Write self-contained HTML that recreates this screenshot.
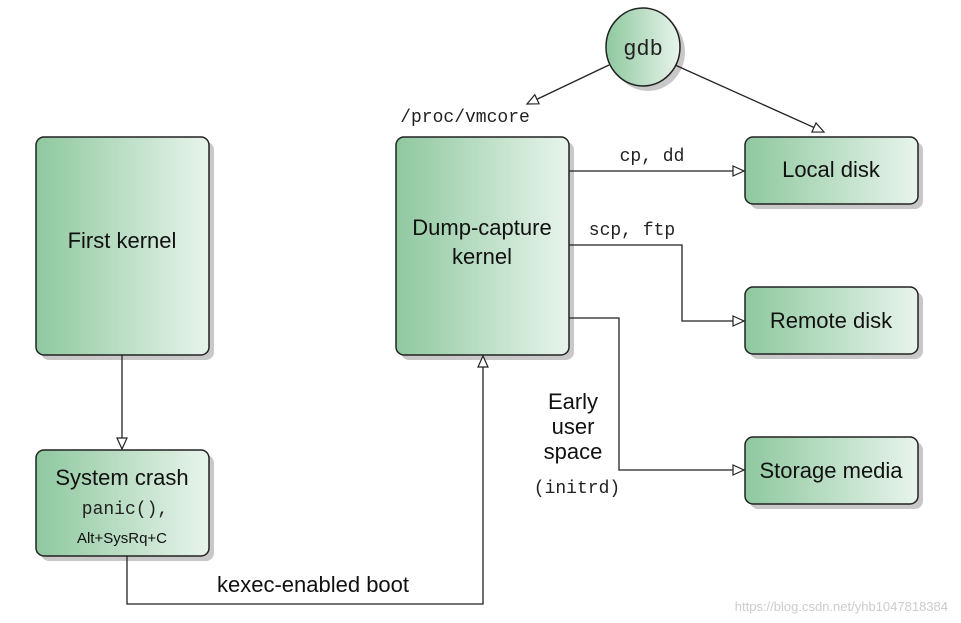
<html><body style="margin:0;background:#fff">
<svg width="961" height="623" xmlns="http://www.w3.org/2000/svg" style="font-family:'Liberation Sans',sans-serif">
<defs>
<linearGradient id="g" x1="0" x2="1" y1="0" y2="0"><stop offset="0" stop-color="#8fc89f"/><stop offset="1" stop-color="#e8f4ec"/></linearGradient>
<marker id="a" markerWidth="14" markerHeight="12" refX="12" refY="6" orient="auto" markerUnits="userSpaceOnUse"><path d="M1,1 L12,6 L1,11 Z" fill="#fff" stroke="#222" stroke-width="1.2"/></marker>
</defs>
<g fill="#c8c8c8">
<rect x="41" y="142" width="173" height="218" rx="8"/>
<rect x="41" y="455" width="173" height="106" rx="8"/>
<rect x="401" y="142" width="173" height="218" rx="8"/>
<rect x="750" y="142" width="173" height="67" rx="8"/>
<rect x="750" y="292" width="173" height="67" rx="8"/>
<rect x="750" y="442" width="173" height="67" rx="8"/>
<ellipse cx="648" cy="52" rx="37" ry="39"/>
</g>
<g fill="url(#g)" stroke="#222" stroke-width="1.5">
<rect x="36" y="137" width="173" height="218" rx="8"/>
<rect x="36" y="450" width="173" height="106" rx="8"/>
<rect x="396" y="137" width="173" height="218" rx="8"/>
<rect x="745" y="137" width="173" height="67" rx="8"/>
<rect x="745" y="287" width="173" height="67" rx="8"/>
<rect x="745" y="437" width="173" height="67" rx="8"/>
<ellipse cx="643" cy="47" rx="37" ry="39"/>
</g>
<g fill="none" stroke="#222" stroke-width="1.3">
<line x1="609" y1="65" x2="527" y2="104" marker-end="url(#a)"/>
<line x1="675" y1="65" x2="824" y2="132" marker-end="url(#a)"/>
<line x1="569" y1="171" x2="744" y2="171" marker-end="url(#a)"/>
<polyline points="569,245 682,245 682,321 744,321" marker-end="url(#a)"/>
<polyline points="569,318 619,318 619,470 744,470" marker-end="url(#a)"/>
<line x1="122" y1="355" x2="122" y2="449" marker-end="url(#a)"/>
<polyline points="127,556 127,604 483,604 483,356" marker-end="url(#a)"/>
</g>
<g fill="#111" font-size="22" text-anchor="middle">
<text x="122" y="248">First kernel</text>
<text x="122" y="485">System crash</text>
<text x="122" y="543" font-size="15">Alt+SysRq+C</text>
<text x="482" y="235">Dump-capture</text>
<text x="482" y="264">kernel</text>
<text x="831" y="177">Local disk</text>
<text x="831" y="328">Remote disk</text>
<text x="831" y="478">Storage media</text>
<text x="313" y="592">kexec-enabled boot</text>
<text x="573" y="409">Early</text>
<text x="573" y="434">user</text>
<text x="573" y="459">space</text>
</g>
<g fill="#222" font-family="'Liberation Mono',monospace" font-size="18" text-anchor="middle">
<text x="643" y="55" font-size="22">gdb</text>
<text x="465" y="122">/proc/vmcore</text>
<text x="652" y="161">cp, dd</text>
<text x="632" y="235">scp, ftp</text>
<text x="577" y="493">(initrd)</text>
<text x="125" y="514">panic(),</text>
</g>
<text x="948" y="611" fill="#ccc" font-size="13" text-anchor="end">https://blog.csdn.net/yhb1047818384</text>
</svg>
</body></html>
